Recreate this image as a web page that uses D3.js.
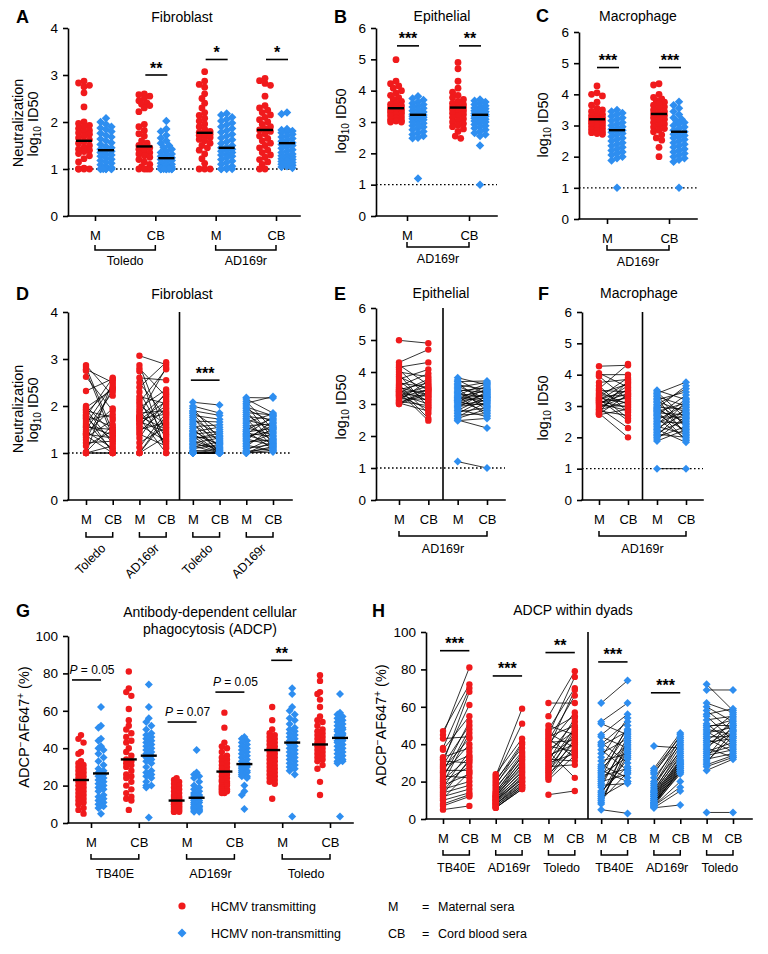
<!DOCTYPE html>
<html>
<head>
<meta charset="utf-8">
<script src="https://cdn.jsdelivr.net/npm/d3@7"></script>
<style>
  body { margin: 0; background: #fff; }
  svg { font-family: "Liberation Sans", Arial, Helvetica, sans-serif; }
</style>
</head>
<body>
<svg id="fig" width="768" height="954"></svg>
<script>
const RED = "#f01a1c";
const BLUE = "#2e8ef0";

// ---------- data ----------
// T = HCMV transmitting, N = non-transmitting. M[i] and CB[i] are one dyad.

// Fibroblast neutralization, log10 ID50
const fibTolM_T = [2.87,2.83,2.78,2.75,2.62,2.32,2.0,1.97,1.93,1.9,1.86,1.82,1.8,1.77,1.74,1.7,1.66,1.62,1.58,1.55,1.5,1.46,1.42,1.4,1.37,1.33,1.28,1.22,1.15,1.02,1.0,1.0,1.0,1.0];
const fibTolCB_T = [2.22,1.45,2.5,1.35,1.9,2.58,1.42,2.35,1.2,1.75,2.4,1.0,1.55,2.6,1.28,1.82,1.05,2.45,1.38,1.5,2.3,1.1,1.95,1.32,1.0,1.7,2.38,1.25,1.48,1.6,1.15,2.55,1.0,1.0];
const fibTolM_N = [2.08,2.0,1.95,1.9,1.87,1.84,1.8,1.76,1.72,1.68,1.64,1.6,1.56,1.52,1.48,1.45,1.42,1.4,1.38,1.35,1.32,1.3,1.27,1.24,1.21,1.18,1.15,1.12,1.09,1.06,1.03,1.0,1.0,1.0,1.0,1.0,1.0,1.0];
const fibTolCB_N = [2.02,1.85,1.3,1.8,1.5,1.22,1.72,1.1,1.38,1.66,1.0,1.27,1.6,1.04,1.15,1.55,1.0,1.46,1.2,1.0,1.35,1.42,1.06,1.0,1.32,1.12,1.0,1.24,1.18,1.0,1.08,1.0,1.02,1.0,1.0,1.0,1.0,1.0];
const fibAdM_T = [3.07,2.87,2.8,2.74,2.6,2.5,2.4,2.3,2.2,2.14,2.08,2.02,1.96,1.9,1.85,1.8,1.78,1.76,1.74,1.72,1.7,1.67,1.63,1.6,1.55,1.5,1.45,1.4,1.32,1.22,1.12,1.0,1.0,1.0];
const fibAdCB_T = [2.88,1.4,2.2,1.0,2.55,1.75,2.93,1.3,2.05,1.1,2.78,1.6,2.35,1.2,1.9,2.82,1.5,2.25,1.0,1.83,2.1,1.45,2.0,1.25,2.3,1.65,1.95,1.15,2.15,1.55,1.86,1.35,1.8,1.7];
const fibAdM_N = [2.18,2.15,2.1,2.06,2.02,1.98,1.94,1.9,1.86,1.82,1.78,1.74,1.7,1.66,1.62,1.58,1.54,1.5,1.47,1.45,1.42,1.4,1.38,1.35,1.32,1.3,1.27,1.24,1.2,1.17,1.14,1.1,1.06,1.03,1.0,1.0,1.0,1.0];
const fibAdCB_N = [2.17,1.85,1.5,2.2,1.3,1.79,1.65,1.2,1.81,1.44,1.71,1.12,1.56,1.83,1.26,1.62,1.38,1.74,1.08,1.52,1.35,1.77,1.22,1.47,1.59,1.16,1.68,1.28,1.41,1.04,1.54,1.18,1.32,1.1,1.24,1.14,1.06,1.02];
// medians: Toledo M (T,N), Toledo CB (T,N), AD169r M (T,N), AD169r CB (T,N)
const fibMed = [1.6,1.4,1.48,1.23,1.77,1.45,1.83,1.55];
const fibSig = [["Toledo|CB",3.0,"**"],["AD169r|M",3.33,"*"],["AD169r|CB",3.33,"*"]];
const fibPairSig = [["N","Toledo",2.55,"***"]];

// Epithelial neutralization (AD169r), log10 ID50
const epiM_T = [4.99,4.3,4.22,4.15,4.08,4.0,3.92,3.85,3.78,3.72,3.66,3.6,3.56,3.52,3.48,3.45,3.42,3.4,3.38,3.35,3.32,3.3,3.27,3.24,3.2,3.16,3.12,3.08,3.05,3.03,3.0,3.0];
const epiCB_T = [4.9,4.7,3.6,4.3,3.2,3.85,2.9,3.44,4.08,3.05,3.52,2.7,3.95,3.28,2.55,3.66,3.1,3.4,2.48,3.78,3.24,3.0,3.56,2.85,3.46,3.15,3.72,2.95,3.36,2.78,3.48,3.32];
const epiM_N = [3.82,3.75,3.7,3.65,3.6,3.56,3.52,3.48,3.44,3.4,3.36,3.32,3.28,3.25,3.22,3.2,3.18,3.15,3.12,3.1,3.07,3.04,3.0,2.96,2.92,2.88,2.84,2.8,2.75,2.7,2.65,2.6,2.55,2.5,2.48,1.2];
const epiCB_N = [3.6,3.3,3.72,3.0,3.45,3.15,3.68,2.8,3.36,3.52,2.92,3.22,3.64,2.65,3.42,3.09,3.27,3.56,2.75,3.2,3.48,2.96,3.33,3.12,3.03,3.39,2.6,3.24,2.88,3.18,2.7,3.06,2.84,2.25,2.55,1.0];
const epiMed = [3.44,3.23,3.46,3.23];
const epiSig = [["AD169r|M",5.43,"***"],["AD169r|CB",5.43,"**"]];

// Macrophage neutralization (AD169r), log10 ID50
const macM_T = [4.27,4.05,4.0,3.95,3.75,3.65,3.55,3.5,3.45,3.4,3.36,3.32,3.28,3.25,3.22,3.2,3.18,3.15,3.12,3.1,3.07,3.04,3.0,2.97,2.94,2.9,2.87,2.84,2.8,2.77,2.74,2.72];
const macCB_T = [4.3,3.6,4.0,3.2,3.85,2.8,4.34,3.45,3.05,3.7,2.6,3.33,3.9,3.1,2.53,3.5,3.75,2.95,3.25,3.4,2.85,3.65,3.0,3.3,2.3,3.55,3.15,2.7,3.8,2.0,3.37,2.9];
const macM_N = [3.5,3.45,3.4,3.35,3.3,3.25,3.2,3.15,3.1,3.05,3.0,2.96,2.92,2.88,2.85,2.82,2.78,2.74,2.7,2.65,2.6,2.55,2.5,2.45,2.4,2.35,2.3,2.25,2.2,2.15,2.1,2.05,2.0,1.95,1.88,1.0];
const macCB_N = [3.2,2.6,3.76,2.3,3.0,2.05,3.45,2.8,2.4,3.55,2.15,2.9,3.65,2.5,1.9,3.1,2.72,2.2,3.35,2.64,1.95,3.05,2.45,2.85,3.25,2.1,2.76,1.84,3.15,2.55,2.0,2.95,2.35,2.68,2.25,1.0];
const macMed = [3.2,2.85,3.37,2.8];
const macSig = [["AD169r|M",4.86,"***"],["AD169r|CB",4.86,"***"]];

// ADCP, % ADCP-AF647+
const adcpTbM_T = [47,45,43,38,37,33,32,31,30,29,28,27,26,25,24,23,22,21,20,19,18,17,16,15,14,13,12,11,10,8,7,5];
const adcpTbCB_T = [72,81,44,70,55,38,61,30,68,50,34,43,26,52,40,22,48,33,28,46,24,36,20,31,18,32,16,25,14,13,12,7];
const adcpTbM_N = [62,52,51,45,44,41,40,39,37,35,33,31,29,28,27,26,25,24,23,22,21,20,19,18,17,15,14,13,12,11,10,9,8,5];
const adcpTbCB_N = [74,62,45,56,38,30,52,47,26,43,54,35,22,48,40,20,46,33,27,50,36,24,41,19,44,28,32,39,20,34,25,37,42,3];
const adcpAdM_T = [24,23,22,21,20,19,18,17,16,15,14,14,13,13,12,12,12,11,11,10,10,10,9,9,8,8,8,7,7,6,6,6];
const adcpAdCB_T = [43,59,51,38,41,36,40,33,35,31,34,29,32,27,30,28,25,26,23,24,22,21,22,20,19,20,18,17,18,16,17,16];
const adcpAdM_N = [39,27,26,25,24,22,20,19,18,17,16,15,15,14,14,13,13,12,12,11,11,10,10,9,9,9,8,8,8,7,7,7,6,6];
const adcpAdCB_N = [38,46,44,42,45,40,43,36,41,39,35,37,33,34,31,32,30,29,31,28,30,27,29,26,28,25,27,24,26,25,20,17,15,7.5];
const adcpToM_T = [62,55,50,48,47,46,45,44,43,42,41,40,39,38,37,36,35,34,33,32,31,30,29,28,27,26,25,24,23,22,21,13];
const adcpToCB_T = [62,79,45,70,55,38,76,50,33,66,42,57,36,69,47,22,52,40,44,31,54,35,49,29,46,41,48,37,43,39,34,15];
const adcpToM_N = [72,69,62,60,58,56,55,53,51,50,49,48,47,46,45,44,43,42,41,40,39,38,37,36,35,34,33,32,31,30,29,28,26,3.5];
const adcpToCB_N = [58,69,57,52,47,59,42,55,40,50,53,45,38,49,56,44,36,51,43,48,46,33,54,41,39,37,50,35,44,47,34,33,32,3.5];
// medians: TB40E M (T,N), TB40E CB, AD169r M, AD169r CB, Toledo M, Toledo CB
const adcpMed = [23,26.5,34,36,12,13.5,27.5,31.5,39,43,42,45.5];
const adcpSig = [["TB40E|M",76.5,"P = 0.05"],["AD169r|M",54,"P = 0.07"],["AD169r|CB",70,"P = 0.05"],["Toledo|M",87,"**"]];
const adcpPairSig = [["T","TB40E",90,"***"],["T","AD169r",76.5,"***"],["T","Toledo",89,"**"],["N","TB40E",84,"***"],["N","AD169r",67.5,"***"]];

const sera = ["M","CB"];

// ---------- helpers ----------
const svg = d3.select("#fig");

function panel(o) {
  const g = svg.append("g");
  const y = d3.scaleLinear().domain([0, o.max]).range([o.yBot, o.yTop]);
  const x = d3.scalePoint().domain(o.cats).range(o.tickRange);
  const ya = g.append("g").attr("transform", `translate(${o.x0},0)`)
    .call(d3.axisLeft(y).tickValues(o.ticks).tickFormat(d3.format("d"))
      .tickSize(5).tickSizeOuter(0).tickPadding(5));
  g.append("line").attr("x1", o.x0).attr("x2", o.x1).attr("y1", o.yBot).attr("y2", o.yBot)
    .attr("stroke", "#000").attr("stroke-width", 1.6).attr("stroke-linecap", "square");
  const xa = g.append("g").attr("transform", `translate(0,${o.yBot})`)
    .call(d3.axisBottom(x).tickSize(5).tickPadding(10).tickFormat(d => d.split("|").pop()));
  xa.select(".domain").remove();
  [ya, xa].forEach(a => {
    a.attr("font-family", null).attr("font-size", null);
    a.selectAll("line,path").attr("stroke", "#000").attr("stroke-width", 1.6);
    a.selectAll("text").attr("fill", "#000");
  });
  ya.selectAll("text").attr("font-size", 13.5);
  xa.selectAll("text").attr("font-size", 13);
  if (o.dotted) {
    g.append("line").attr("x1", o.x0).attr("x2", o.x1).attr("y1", y(1)).attr("y2", y(1))
      .attr("stroke", "#000").attr("stroke-width", 1.4).attr("stroke-dasharray", "1.6,2.4");
  }
  return { g, x, y, o };
}

function letter(x, y, t) {
  svg.append("text").attr("x", x).attr("y", y).attr("font-size", 18).attr("font-weight", "bold").text(t);
}

function title(x, y, t) {
  svg.append("text").attr("x", x).attr("y", y).attr("text-anchor", "middle").attr("font-size", 14).text(t);
}

// parts: [text, shift] where shift>0 lowers (subscript), shift<0 raises (superscript)
function yTitle(x, yc, parts) {
  const t = svg.append("text").attr("transform", `translate(${x},${yc}) rotate(-90)`)
    .attr("text-anchor", "middle").attr("font-size", 14.5);
  let prev = 0;
  parts.forEach(([s, sh]) => {
    const ts = t.append("tspan").text(s).attr("dy", sh - prev);
    if (sh !== 0) ts.attr("font-size", 10);
    prev = sh;
  });
}

function bracket(p, a, b, yb, label, ly) {
  const xa = p.x(a), xb = p.x(b);
  p.g.append("path").attr("d", `M${xa},${yb - 5}V${yb}H${xb}V${yb - 5}`)
    .attr("fill", "none").attr("stroke", "#000").attr("stroke-width", 1.5);
  if (label) {
    p.g.append("text").attr("x", (xa + xb) / 2).attr("y", yb + ly).attr("text-anchor", "middle")
      .attr("font-size", 12.5).text(label);
  }
}

function separator(p, k) {
  const c = p.o.cats;
  const sx = (p.x(c[k - 1]) + p.x(c[k])) / 2;
  p.g.append("line").attr("x1", sx).attr("x2", sx).attr("y1", p.y(p.o.max)).attr("y2", p.o.yBot)
    .attr("stroke", "#000").attr("stroke-width", 1.6);
}

function sigBar(p, xa, xb, v, label, tx) {
  const yy = p.y(v);
  p.g.append("line").attr("x1", xa).attr("x2", xb).attr("y1", yy).attr("y2", yy)
    .attr("stroke", "#000").attr("stroke-width", 1.6);
  if (label.startsWith("P")) {
    const t = p.g.append("text").attr("x", tx).attr("y", yy - 6).attr("text-anchor", "middle").attr("font-size", 12);
    t.append("tspan").attr("font-style", "italic").text("P");
    t.append("tspan").text(label.slice(1));
  } else {
    p.g.append("text").attr("x", (xa + xb) / 2).attr("y", yy - 1.5).attr("text-anchor", "middle")
      .attr("font-size", 16).attr("font-weight", "bold").text(label);
  }
}

// simple beeswarm: spread points sideways when they would overlap
function swarm(vals, y, r, maxOff) {
  const pts = vals.map(v => ({ v, py: y(v), dx: 0 })).sort((a, b) => a.py - b.py);
  const placed = [];
  const step = r * 0.8, minD = r * 1.5;
  pts.forEach(p => {
    let best = 0, bestOv = Infinity;
    for (let k = 0; k * step <= maxOff; k++) {
      for (const s of (k ? [-1, 1] : [1])) {
        const dx = s * k * step;
        let ov = 0;
        placed.forEach(q => {
          const d = Math.hypot(q.dx - dx, q.py - p.py);
          if (d < minD) ov += minD - d;
        });
        if (ov < bestOv - 1e-6) { bestOv = ov; best = dx; }
      }
      if (bestOv === 0) break;
    }
    p.dx = best;
    placed.push(p);
  });
  return pts;
}

function marks(g, pts, kind, r) {
  if (kind === "T") {
    g.append("g").selectAll("circle").data(pts).join("circle")
      .attr("cx", d => d[0]).attr("cy", d => d[1]).attr("r", r).attr("fill", RED);
  } else {
    const h = r * 1.25;
    g.append("g").selectAll("path").data(pts).join("path")
      .attr("d", d => `M${d[0]},${d[1] - h}L${d[0] + h},${d[1]}L${d[0]},${d[1] + h}L${d[0] - h},${d[1]}Z`)
      .attr("fill", BLUE);
  }
}

// unpaired scatter: cols = [category, kind, values], med in same order
function dotPanel(p, cols, med, off, r, maxOff) {
  cols.forEach(([cat, kind, vals], i) => {
    const cx = p.x(cat) + (kind === "T" ? -off : off);
    const pts = swarm(vals, p.y, r, maxOff);
    marks(p.g, pts.map(d => [cx + d.dx, d.py]), kind, r);
    p.g.append("line").attr("x1", cx - 8).attr("x2", cx + 8)
      .attr("y1", p.y(med[i])).attr("y2", p.y(med[i]))
      .attr("stroke", "#000").attr("stroke-width", 2.4);
  });
}

// paired dyads: pairs = [kind, strain, M values, CB values]
function pairPanel(p, pairs, r) {
  pairs.forEach(([kind, strain, m, cb]) => {
    const xm = p.x(`${kind}|${strain}|M`), xc = p.x(`${kind}|${strain}|CB`);
    const n = Math.min(m.length, cb.length);
    p.g.append("g").selectAll("line").data(d3.range(n)).join("line")
      .attr("x1", xm).attr("x2", xc)
      .attr("y1", i => p.y(m[i])).attr("y2", i => p.y(cb[i]))
      .attr("stroke", "#000").attr("stroke-width", 0.8);
    marks(p.g, m.map(v => [xm, p.y(v)]), kind, r);
    marks(p.g, cb.map(v => [xc, p.y(v)]), kind, r);
  });
}

const cat2 = strains => strains.flatMap(s => sera.map(m => `${s}|${m}`));
const cat3 = strains => ["T", "N"].flatMap(k => strains.flatMap(s => sera.map(m => `${k}|${s}|${m}`)));
const log10Parts = [["log", 0], ["10", 3], [" ID50", 0]];

// ---------- A ----------
const pA = panel({ x0: 68, x1: 300, yTop: 28, yBot: 216, max: 4, ticks: [0,1,2,3,4],
  cats: cat2(["Toledo", "AD169r"]), tickRange: [95, 276], dotted: true });
dotPanel(pA, [
  ["Toledo|M","T",fibTolM_T], ["Toledo|M","N",fibTolM_N],
  ["Toledo|CB","T",fibTolCB_T], ["Toledo|CB","N",fibTolCB_N],
  ["AD169r|M","T",fibAdM_T], ["AD169r|M","N",fibAdM_N],
  ["AD169r|CB","T",fibAdCB_T], ["AD169r|CB","N",fibAdCB_N]], fibMed, 11, 3.4, 6);
fibSig.forEach(([c, v, l]) => sigBar(pA, pA.x(c) - 10, pA.x(c) + 12, v, l));
bracket(pA, "Toledo|M", "Toledo|CB", 250, "Toledo", 15);
bracket(pA, "AD169r|M", "AD169r|CB", 250, "AD169r", 15);
letter(16, 23, "A"); title(182, 22, "Fibroblast");
yTitle(23, 123, [["Neutralization", 0]]);
yTitle(38, 124, log10Parts);

// ---------- B ----------
const pB = panel({ x0: 376, x1: 497, yTop: 28, yBot: 216, max: 6, ticks: [0,1,2,3,4,5,6],
  cats: cat2(["AD169r"]), tickRange: [407, 469], dotted: true });
dotPanel(pB, [["AD169r|M","T",epiM_T], ["AD169r|M","N",epiM_N],
  ["AD169r|CB","T",epiCB_T], ["AD169r|CB","N",epiCB_N]], epiMed, 11, 3.4, 6);
epiSig.forEach(([c, v, l]) => sigBar(pB, pB.x(c) - 10, pB.x(c) + 12, v, l));
bracket(pB, "AD169r|M", "AD169r|CB", 247, "AD169r", 16);
letter(334, 23, "B"); title(442, 21, "Epithelial");
yTitle(346, 121, log10Parts);

// ---------- C ----------
const pC = panel({ x0: 579, x1: 697, yTop: 32, yBot: 219, max: 6, ticks: [0,1,2,3,4,5,6],
  cats: cat2(["AD169r"]), tickRange: [607, 669], dotted: true });
dotPanel(pC, [["AD169r|M","T",macM_T], ["AD169r|M","N",macM_N],
  ["AD169r|CB","T",macCB_T], ["AD169r|CB","N",macCB_N]], macMed, 10, 3.4, 6);
macSig.forEach(([c, v, l]) => sigBar(pC, pC.x(c) - 10, pC.x(c) + 12, v, l));
bracket(pC, "AD169r|M", "AD169r|CB", 250, "AD169r", 16);
letter(536, 22, "C"); title(638, 21, "Macrophage");
yTitle(548, 125, log10Parts);

// ---------- D ----------
const pD = panel({ x0: 68, x1: 292, yTop: 312, yBot: 500, max: 4, ticks: [0,1,2,3,4],
  cats: cat3(["Toledo", "AD169r"]), tickRange: [86, 273], dotted: true });
separator(pD, 4);
pairPanel(pD, [["T","Toledo",fibTolM_T,fibTolCB_T], ["T","AD169r",fibAdM_T,fibAdCB_T],
  ["N","Toledo",fibTolM_N,fibTolCB_N], ["N","AD169r",fibAdM_N,fibAdCB_N]], 3.2);
fibPairSig.forEach(([k, s, v, l]) => sigBar(pD, pD.x(`${k}|${s}|M`) - 2, pD.x(`${k}|${s}|CB`), v, l));
[["T","Toledo"],["T","AD169r"],["N","Toledo"],["N","AD169r"]].forEach(([k, s]) => {
  bracket(pD, `${k}|${s}|M`, `${k}|${s}|CB`, 537, null);
  const cx = (pD.x(`${k}|${s}|M`) + pD.x(`${k}|${s}|CB`)) / 2;
  pD.g.append("text").attr("transform", `translate(${cx + 4},${546}) rotate(-45)`)
    .attr("text-anchor", "end").attr("dy", "0.35em").attr("font-size", 12.5).text(s);
});
letter(16, 300, "D"); title(182, 299, "Fibroblast");
yTitle(23, 409, [["Neutralization", 0]]);
yTitle(38, 410, log10Parts);

// ---------- E ----------
const pE = panel({ x0: 376, x1: 505, yTop: 308, yBot: 500, max: 6, ticks: [0,1,2,3,4,5,6],
  cats: cat3(["AD169r"]), tickRange: [399, 487], dotted: true });
separator(pE, 2);
pairPanel(pE, [["T","AD169r",epiM_T,epiCB_T], ["N","AD169r",epiM_N,epiCB_N]], 3.2);
bracket(pE, "T|AD169r|M", "N|AD169r|CB", 536, "AD169r", 17);
letter(334, 300, "E"); title(441, 298, "Epithelial");
yTitle(346, 407, log10Parts);

// ---------- F ----------
const pF = panel({ x0: 582, x1: 703, yTop: 312, yBot: 500, max: 6, ticks: [0,1,2,3,4,5,6],
  cats: cat3(["AD169r"]), tickRange: [599, 686], dotted: true });
separator(pF, 2);
pairPanel(pF, [["T","AD169r",macM_T,macCB_T], ["N","AD169r",macM_N,macCB_N]], 3.2);
bracket(pF, "T|AD169r|M", "N|AD169r|CB", 536, "AD169r", 17);
letter(538, 300, "F"); title(639, 298, "Macrophage");
yTitle(548, 408, log10Parts);

// ---------- G ----------
const pG = panel({ x0: 68, x1: 353, yTop: 636, yBot: 823, max: 100, ticks: [0,20,40,60,80,100],
  cats: cat2(["TB40E", "AD169r", "Toledo"]), tickRange: [91, 330] });
dotPanel(pG, [
  ["TB40E|M","T",adcpTbM_T], ["TB40E|M","N",adcpTbM_N],
  ["TB40E|CB","T",adcpTbCB_T], ["TB40E|CB","N",adcpTbCB_N],
  ["AD169r|M","T",adcpAdM_T], ["AD169r|M","N",adcpAdM_N],
  ["AD169r|CB","T",adcpAdCB_T], ["AD169r|CB","N",adcpAdCB_N],
  ["Toledo|M","T",adcpToM_T], ["Toledo|M","N",adcpToM_N],
  ["Toledo|CB","T",adcpToCB_T], ["Toledo|CB","N",adcpToCB_N]], adcpMed, 10, 3.2, 4);
adcpSig.forEach(([c, v, l]) => {
  const cx = pG.x(c);
  if (l.startsWith("P")) sigBar(pG, cx - 19, cx + 10, v, l, cx + 1);
  else sigBar(pG, cx - 11, cx + 10, v, l);
});
["TB40E", "AD169r", "Toledo"].forEach(s => bracket(pG, `${s}|M`, `${s}|CB`, 859, s, 19));
letter(16, 617, "G");
title(210, 617, "Antibody-dependent cellular");
title(210, 634, "phagocytosis (ADCP)");
yTitle(29, 727, [["ADCP", 0], ["\u2212", -5], ["AF647", 0], ["+", -5], [" (%)", 0]]);

// ---------- H ----------
const pH = panel({ x0: 426, x1: 752, yTop: 632, yBot: 819, max: 100, ticks: [0,20,40,60,80,100],
  cats: cat3(["TB40E", "AD169r", "Toledo"]), tickRange: [443, 733] });
separator(pH, 6);
pairPanel(pH, [
  ["T","TB40E",adcpTbM_T,adcpTbCB_T], ["T","AD169r",adcpAdM_T,adcpAdCB_T], ["T","Toledo",adcpToM_T,adcpToCB_T],
  ["N","TB40E",adcpTbM_N,adcpTbCB_N], ["N","AD169r",adcpAdM_N,adcpAdCB_N], ["N","Toledo",adcpToM_N,adcpToCB_N]], 3.2);
adcpPairSig.forEach(([k, s, v, l]) => sigBar(pH, pH.x(`${k}|${s}|M`) - 3, pH.x(`${k}|${s}|CB`), v, l));
["T", "N"].forEach(k => ["TB40E", "AD169r", "Toledo"].forEach(s =>
  bracket(pH, `${k}|${s}|M`, `${k}|${s}|CB`, 855, s, 17)));
letter(372, 617, "H"); title(573, 615, "ADCP within dyads");
yTitle(386, 725, [["ADCP", 0], ["\u2212", -5], ["AF647", 0], ["+", -5], [" (%)", 0]]);

// ---------- legend ----------
const leg = svg.append("g").attr("font-size", 12.5);
marks(leg, [[182, 906]], "T", 3.6);
marks(leg, [[182, 933]], "N", 3.6);
leg.append("text").attr("x", 211).attr("y", 911).text("HCMV transmitting");
leg.append("text").attr("x", 211).attr("y", 938).text("HCMV non-transmitting");
[["M", 911, "Maternal sera"], ["CB", 938, "Cord blood sera"]].forEach(([a, yy, b]) => {
  leg.append("text").attr("x", 388).attr("y", yy).text(a);
  leg.append("text").attr("x", 422).attr("y", yy).text("=");
  leg.append("text").attr("x", 438).attr("y", yy).text(b);
});
</script>
</body>
</html>
